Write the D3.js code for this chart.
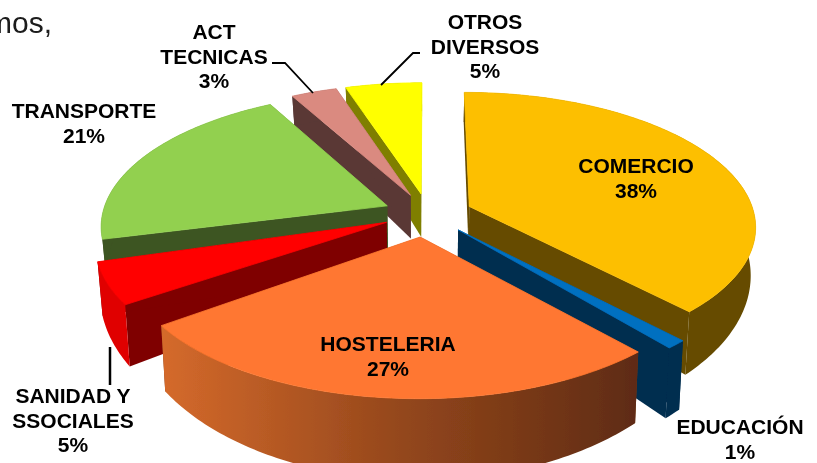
<!DOCTYPE html>
<html><head><meta charset="utf-8">
<style>html,body{margin:0;padding:0;background:#fff;overflow:hidden}svg{display:block}text{font-family:"Liberation Sans",Arial,sans-serif}</style>
<script src="https://cdn.jsdelivr.net/npm/d3@7"></script>
</head><body><svg id="c" width="817" height="463"></svg>
<script>
const categories = ["COMERCIO","EDUCACIÓN","HOSTELERIA","SANIDAD Y SSOCIALES","TRANSPORTE","ACT TECNICAS","OTROS DIVERSOS"];
const values = [38,1,27,5,21,3,5];
const startTurnDeg = [0,0,-2.5,-2,0,0,0];
const endTurnDeg = [0,0,-3.5,-2,0,0,0];
const explode = [.157,.157,.172,.157,.157,.157,.157];
const topColors = ["#FDBF00","#0070C0","#FF7730","#FF0000","#92D050","#DA8A80","#FFFF00"];
const faceColors = ["#664C00","#002E50","#7A3A18","#7F0000","#3E5422","#5A3836","#7F7F00"];
const wallColors = ["#664C00","#002E50","url(#hostWall)","#E00000","#3E5422","#5A3836","#7F7F00"];
const drawOrder = [6,5,4,0,3,1,2];
const labelLines = [["COMERCIO","38%"],["EDUCACIÓN","1%"],["HOSTELERIA","27%"],["SANIDAD Y","SSOCIALES","5%"],["TRANSPORTE","21%"],["ACT","TECNICAS","3%"],["OTROS","DIVERSOS","5%"]];
const labelPos = [[636,173],[740,434],[388,351],[73,403],[84,118],[214,39],[485,29]];
const leaders = [[[272,63],[285,63],[313,93]],[[420,53],[413,53],[381,85]],[[110,347],[110,385]]];

const svg = d3.select("#c");
const defs = svg.append("defs");
const g = defs.append("linearGradient").attr("id","hostWall").attr("gradientUnits","userSpaceOnUse").attr("x1",160).attr("x2",640).attr("y1",0).attr("y2",0);
[[0,"#D56A2B"],[.5,"#94471C"],[1,"#5E2B12"]].forEach(s=>g.append("stop").attr("offset",s[0]).attr("stop-color",s[1]));
defs.append("filter").attr("id","soft").append("feGaussianBlur").attr("stdDeviation",.4);
const root = svg.append("g").attr("filter","url(#soft)");

const X0=428,Y0=214,A=285,B=132,P=.14,DEPTH=46;
const sx=d3.scaleLinear().domain([-1,1]).range([X0-A,X0+A]);
const sy=d3.scaleLinear().domain([-1,1]).range([Y0-B,Y0+B]);
function proj(U,V,z){
  const w=1-P*V, px=U/w, py=V/w;
  const x=sx(px), y=sy(py);
  if(!z) return [x,y];
  return [X0+(x-X0)*.985, y+DEPTH/Math.pow(w,3.2)];
}
const line=d3.line().curve(d3.curveLinear);
const arcs=d3.pie().sort(null).startAngle(0).endAngle(2*Math.PI)(values);

drawOrder.forEach(i=>{
  const a=arcs[i], m=(a.startAngle+a.endAngle)/2, rad=Math.PI/180;
  const ox=explode[i]*Math.sin(m), oy=-explode[i]*Math.cos(m);
  const a0=a.startAngle+startTurnDeg[i]*rad, a1=a.endAngle+endTurnDeg[i]*rad;
  const n=Math.max(4,Math.ceil((a1-a0)*60));
  const ang=d3.range(n+1).map(k=>a0+(a1-a0)*k/n);
  const top=ang.map(t=>proj(ox+Math.sin(t),oy-Math.cos(t),false));
  const bot=ang.map(t=>proj(ox+Math.sin(t),oy-Math.cos(t),true));
  const c0=proj(ox,oy,false), c1=proj(ox,oy,true);
  const s=root.append("g");
  const face=(p,f,sw)=>s.append("path").attr("d",line(p)+"Z").attr("fill",f).attr("stroke",sw?f:"none").attr("stroke-width",sw||0);
  face([c0,top[0],bot[0],c1],faceColors[i],0);
  face([c0,top[n],bot[n],c1],faceColors[i],0);
  face(top.concat(bot.slice().reverse()),wallColors[i],0);
  face([c0].concat(top),topColors[i],.8);
});

leaders.forEach((l,i)=>root.append("path").attr("d",line(l)).attr("fill","none").attr("stroke","#000").attr("stroke-width",i==2?2.5:1.8));

labelLines.forEach((ls,i)=>{
  const t=root.append("text").attr("text-anchor","middle").attr("font-weight","bold").attr("font-size",21).attr("fill","#000");
  ls.forEach((l,k)=>t.append("tspan").attr("x",labelPos[i][0]).attr("y",labelPos[i][1]+k*24.7).text(l));
});
root.append("text").attr("x",52).attr("y",33).attr("text-anchor","end").attr("font-size",30).attr("fill","#1a1a1a").text("mos,");
</script></body></html>
